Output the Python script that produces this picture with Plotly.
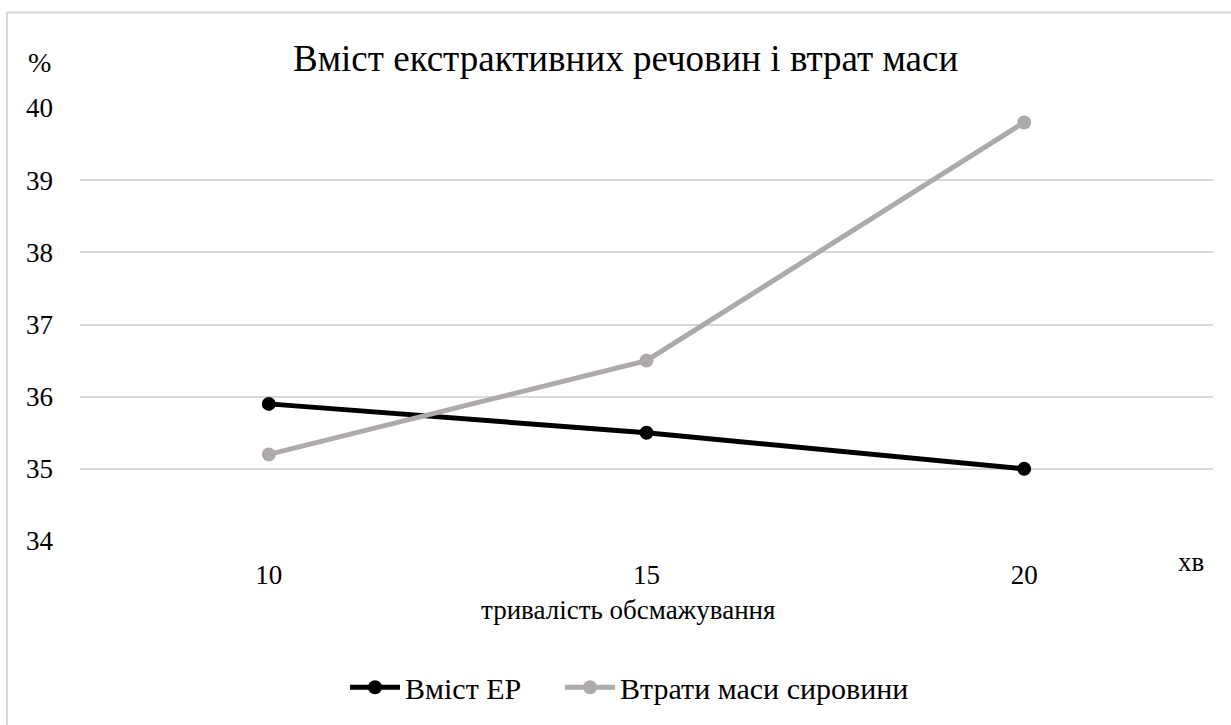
import plotly.graph_objects as go

# Frying time, minutes
minutes = [10, 15, 20]
# Extractive substances content, %
extractives = [35.9, 35.5, 35.0]
# Raw material mass loss, %
mass_loss = [35.2, 36.5, 39.8]
y_ticks = [34, 35, 36, 37, 38, 39, 40]

FONT = "Liberation Serif"
W, H = 1231, 725
L, R, T, B = 80, 18, 108, 182
pw, ph = W - L - R, H - T - B


def px_x(px):
    return (px - L) / pw


def px_y(py):
    return (H - B - py) / ph


fig = go.Figure()
fig.add_trace(go.Scatter(
    x=minutes, y=extractives, name="Вміст ЕР", mode="lines+markers",
    line=dict(color="#000000", width=5),
    marker=dict(color="#000000", size=14),
    legend="legend",
))
fig.add_trace(go.Scatter(
    x=minutes, y=mass_loss, name="Втрати маси сировини", mode="lines+markers",
    line=dict(color="#AEAAAA", width=5),
    marker=dict(color="#AEAAAA", size=14),
    legend="legend2",
))

legend_style = dict(
    orientation="h", xanchor="left", yanchor="middle",
    font=dict(size=30, family=FONT), itemwidth=50,
    bgcolor="rgba(0,0,0,0)",
)

fig.update_layout(
    width=W, height=H,
    margin=dict(l=L, r=R, t=T, b=B),
    paper_bgcolor="white", plot_bgcolor="white",
    font=dict(family=FONT, color="#000000", size=27),
    showlegend=True,
    legend=dict(legend_style, x=px_x(345), y=px_y(690)),
    legend2=dict(legend_style, x=px_x(560), y=px_y(690)),
    xaxis=dict(
        range=[7.5, 22.5], tickmode="array", tickvals=minutes,
        ticktext=[str(m) for m in minutes],
        showgrid=False, zeroline=False, showline=False,
        ticks="", ticklabelstandoff=15,
        tickfont=dict(size=27, family=FONT),
    ),
    yaxis=dict(
        range=[34, 40], tickmode="array", tickvals=y_ticks,
        showgrid=True, gridcolor="#D9D9D9", gridwidth=2,
        zeroline=False, showline=False, ticks="",
        ticklabelstandoff=26,
        tickfont=dict(size=27, family=FONT),
    ),
    shapes=[dict(
        type="rect", xref="paper", yref="paper",
        x0=px_x(7), x1=px_x(1260), y0=px_y(760), y1=px_y(12),
        line=dict(color="#D9D9D9", width=2), fillcolor="rgba(0,0,0,0)",
        layer="below",
    )],
    annotations=[
        dict(text="Вміст екстрактивних речовин і втрат маси",
             xref="paper", yref="paper", x=px_x(625), y=px_y(58),
             xanchor="center", yanchor="middle", showarrow=False,
             font=dict(size=37, family=FONT)),
        dict(text="%", xref="paper", yref="paper", x=px_x(39), y=px_y(62),
             xanchor="center", yanchor="middle", showarrow=False,
             font=dict(size=28, family=FONT)),
        dict(text="хв", xref="paper", yref="paper", x=px_x(1191), y=px_y(564),
             xanchor="center", yanchor="middle", showarrow=False,
             font=dict(size=27, family=FONT)),
        dict(text="тривалість обсмажування", xref="paper", yref="paper",
             x=px_x(628), y=px_y(612), xanchor="center", yanchor="middle",
             showarrow=False, font=dict(size=27, family=FONT)),
    ],
)

fig.write_html("out.html")
